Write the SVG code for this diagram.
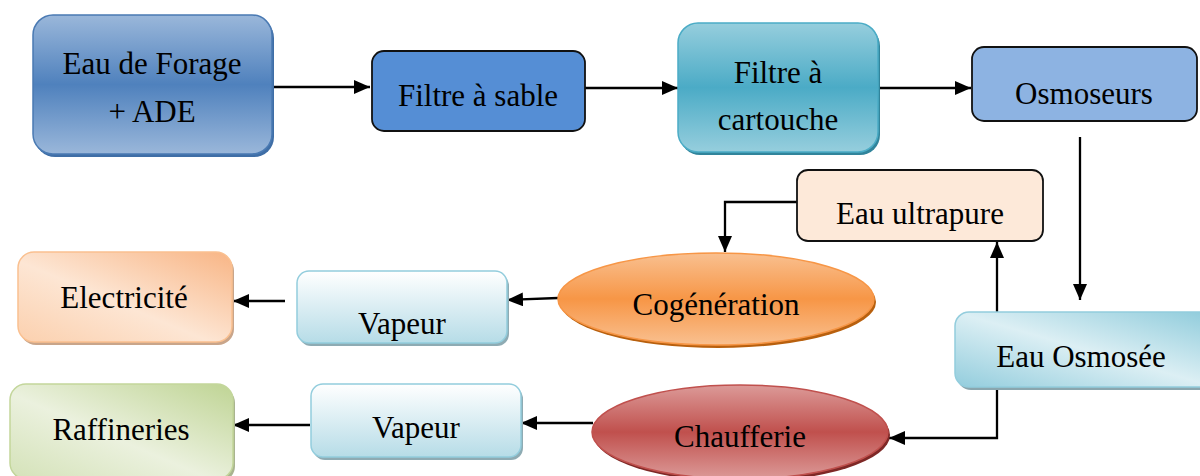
<svg xmlns="http://www.w3.org/2000/svg" width="1200" height="476" viewBox="0 0 1200 476">
<defs>
<style>
text{font-family:"Liberation Serif","Times New Roman",serif;font-size:31px;fill:#000;text-anchor:middle}
.ln{fill:none;stroke:#000;stroke-width:2.3}
</style>
<marker id="ah" viewBox="0 0 16 14" refX="16" refY="7" markerWidth="16" markerHeight="14" markerUnits="userSpaceOnUse" orient="auto">
<path d="M0,0 L16,7 L0,14 Z" fill="#000"/>
</marker>
<linearGradient id="gBlue" x1="0" y1="0" x2="0" y2="1">
<stop offset="0" stop-color="#9ab7da"/><stop offset="0.5" stop-color="#4f81bd"/><stop offset="1" stop-color="#9ab7da"/>
</linearGradient>
<linearGradient id="gTeal" x1="0" y1="0" x2="0" y2="1">
<stop offset="0" stop-color="#96cedd"/><stop offset="0.5" stop-color="#4babc6"/><stop offset="1" stop-color="#96cedd"/>
</linearGradient>
<linearGradient id="gOrange" x1="0" y1="0" x2="0" y2="1">
<stop offset="0" stop-color="#f9c090"/><stop offset="0.5" stop-color="#f79646"/><stop offset="1" stop-color="#f9c090"/>
</linearGradient>
<linearGradient id="gRed" x1="0" y1="0" x2="0" y2="1">
<stop offset="0" stop-color="#dc9a98"/><stop offset="0.5" stop-color="#c0504d"/><stop offset="1" stop-color="#dc9a98"/>
</linearGradient>
<linearGradient id="gVap" x1="0" y1="0" x2="0" y2="1">
<stop offset="0" stop-color="#ffffff"/><stop offset="1" stop-color="#b6dce7"/>
</linearGradient>
<linearGradient id="gPeach" x1="1" y1="0" x2="0" y2="1">
<stop offset="0" stop-color="#f8b585"/><stop offset="0.55" stop-color="#fde6d4"/><stop offset="1" stop-color="#fbd0ae"/>
</linearGradient>
<linearGradient id="gOsm" x1="1" y1="0" x2="0" y2="1">
<stop offset="0" stop-color="#8ecbdb"/><stop offset="0.5" stop-color="#dceff4"/><stop offset="1" stop-color="#93cddd"/>
</linearGradient>
<linearGradient id="gGreen" x1="1" y1="0" x2="0" y2="1">
<stop offset="0" stop-color="#bfd494"/><stop offset="0.55" stop-color="#ebf1de"/><stop offset="1" stop-color="#d4e2b8"/>
</linearGradient>
</defs>

<g id="connectors">
<line class="ln" x1="272" y1="87" x2="370" y2="87" marker-end="url(#ah)"/>
<line class="ln" x1="878" y1="88" x2="971" y2="88" marker-end="url(#ah)"/>
<line class="ln" x1="585" y1="88" x2="678" y2="88" marker-end="url(#ah)"/>
<line class="ln" x1="1080" y1="137" x2="1080" y2="300" marker-end="url(#ah)"/>
<line class="ln" x1="997" y1="312" x2="997" y2="242" marker-end="url(#ah)"/>
<polyline class="ln" points="797,202 725,202 725,252" marker-end="url(#ah)"/>
<line class="ln" x1="558" y1="298" x2="507" y2="300" marker-end="url(#ah)"/>
<line class="ln" x1="285" y1="301" x2="233" y2="301" marker-end="url(#ah)"/>
<polyline class="ln" points="997,388 997,438 889,438" marker-end="url(#ah)"/>
<line class="ln" x1="593" y1="423" x2="521" y2="423" marker-end="url(#ah)"/>
<line class="ln" x1="310" y1="425" x2="233" y2="425" marker-end="url(#ah)"/>
</g>

<g id="n-forage">
<rect x="35" y="18" width="239" height="139" rx="20" fill="#3f6ea6"/>
<rect x="33" y="15" width="239" height="139" rx="20" fill="url(#gBlue)" stroke="#4a7ab3" stroke-width="1.5"/>
<text x="152" y="74">Eau de Forage</text>
<text x="152" y="122">+ ADE</text>
</g>

<g id="n-sable">
<rect x="372" y="51" width="213" height="80" rx="12" fill="#558ed5" stroke="#111" stroke-width="1.8"/>
<text x="478" y="106">Filtre à sable</text>
</g>

<g id="n-cartouche">
<rect x="680" y="26" width="200" height="129" rx="20" fill="#31849b"/>
<rect x="678" y="23" width="200" height="129" rx="20" fill="url(#gTeal)" stroke="#4bacc6" stroke-width="1.5"/>
<text x="778" y="83">Filtre à</text>
<text x="778" y="130">cartouche</text>
</g>

<g id="n-osmoseurs">
<rect x="972" y="47" width="225" height="74" rx="12" fill="#8db3e2" stroke="#111" stroke-width="1.8"/>
<text x="1084" y="104">Osmoseurs</text>
</g>

<g id="n-ultrapure">
<rect x="797" y="170" width="246" height="71" rx="11" fill="#fde9d9" stroke="#111" stroke-width="1.8"/>
<text x="920" y="224">Eau ultrapure</text>
</g>

<g id="n-osmosee">
<rect x="957" y="315" width="260" height="75" rx="14" fill="#8aa6ae"/>
<rect x="955" y="312" width="260" height="75" rx="14" fill="url(#gOsm)" stroke="#93cddd" stroke-width="1.5"/>
<text x="1081" y="367">Eau Osmosée</text>
</g>

<g id="n-cogeneration">
<ellipse cx="718" cy="302" rx="158" ry="46" fill="#b8600e"/>
<ellipse cx="716" cy="299" rx="158" ry="46" fill="url(#gOrange)" stroke="#f79646" stroke-width="1.5"/>
<text x="716" y="315">Cogénération</text>
</g>

<g id="n-vapeur1">
<rect x="299" y="274" width="210" height="72" rx="12" fill="#8eabb3"/>
<rect x="297" y="271" width="210" height="72" rx="12" fill="url(#gVap)" stroke="#93cddd" stroke-width="1.5"/>
<text x="402" y="334">Vapeur</text>
</g>

<g id="n-electricite">
<rect x="20" y="255" width="214" height="90" rx="16" fill="#c9a58a"/>
<rect x="18" y="252" width="214" height="90" rx="16" fill="url(#gPeach)" stroke="#fac090" stroke-width="1.5"/>
<text x="124" y="308">Electricité</text>
</g>

<g id="n-chaufferie">
<ellipse cx="742" cy="435" rx="148" ry="47" fill="#7e2826"/>
<ellipse cx="740" cy="432" rx="148" ry="47" fill="url(#gRed)" stroke="#c0504d" stroke-width="1.5"/>
<text x="740" y="447">Chaufferie</text>
</g>

<g id="n-vapeur2">
<rect x="313" y="387" width="210" height="73" rx="12" fill="#8eabb3"/>
<rect x="311" y="384" width="210" height="73" rx="12" fill="url(#gVap)" stroke="#93cddd" stroke-width="1.5"/>
<text x="416" y="438">Vapeur</text>
</g>

<g id="n-raffineries">
<rect x="12" y="387" width="223" height="95" rx="16" fill="#a9b48f"/>
<rect x="10" y="384" width="223" height="95" rx="16" fill="url(#gGreen)" stroke="#c3d69b" stroke-width="1.5"/>
<text x="121" y="440">Raffineries</text>
</g>
</svg>
